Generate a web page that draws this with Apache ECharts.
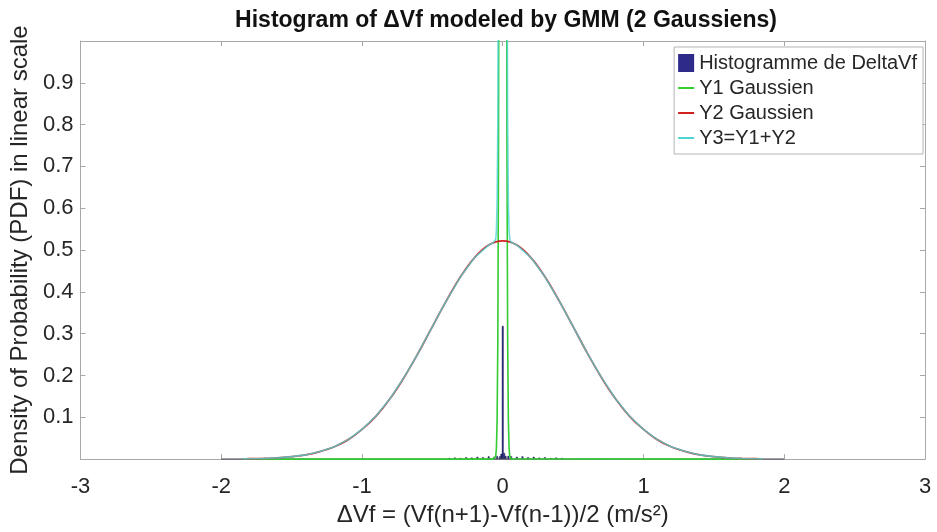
<!DOCTYPE html>
<html>
<head>
<meta charset="utf-8">
<script src="https://cdn.jsdelivr.net/npm/echarts@6/dist/echarts.min.js"></script>
<style>html,body{margin:0;padding:0;background:#fff}#c{width:937px;height:532px}</style>
</head>
<body>
<div id="c"></div>
<script>
// ---- data ----
const xTicks = [-3, -2, -1, 0, 1, 2, 3];
const yTicks = [0.1, 0.2, 0.3, 0.4, 0.5, 0.6, 0.7, 0.8, 0.9];

// histogram (bin centres, heights), bin width, and the full bin range
const histRange = [-2, 2];
const histBinWidth = 0.01;
const histCenters = [-1.72, -1.64, -1.58, -0.38, -0.34, -0.30, -0.26, -0.22, -0.18, -0.14, -0.10, -0.06, -0.04, -0.02, -0.01, 0, 0.01, 0.02, 0.04, 0.06, 0.10, 0.14, 0.18, 0.22, 0.26, 0.30, 0.34, 0.38, 0.42, 1.56, 1.64];
const histHeights = [0.002, 0.003, 0.002, 0.002, 0.003, 0.002, 0.004, 0.003, 0.005, 0.004, 0.006, 0.005, 0.007, 0.006, 0.012, 0.318, 0.014, 0.007, 0.007, 0.006, 0.005, 0.006, 0.004, 0.005, 0.003, 0.004, 0.002, 0.003, 0.002, 0.002, 0.002];

// Y1 : narrow Gaussian (spike at 0)
const y1X = [-1.85, -0.07, -0.06, -0.05, -0.045, -0.04, -0.035, -0.03, -0.025, -0.02, -0.015, -0.01, -0.005, 0, 0.005, 0.01, 0.015, 0.02, 0.025, 0.03, 0.035, 0.04, 0.045, 0.05, 0.06, 0.07, 1.85];
const y1Vals = [0, 0, 0.0003, 0.0065, 0.026, 0.094, 0.28, 0.74, 1.67, 3.25, 5.4, 7.9, 9.8, 10.6, 9.8, 7.9, 5.4, 3.25, 1.67, 0.74, 0.28, 0.094, 0.026, 0.0065, 0.0003, 0, 0];

// Y2 : broad Gaussian
const y2X = [-1.85, -1.8, -1.7, -1.6, -1.5, -1.4, -1.3, -1.2, -1.1, -1.0, -0.9, -0.8, -0.7, -0.6, -0.5, -0.4, -0.3, -0.2, -0.1, 0, 0.1, 0.2, 0.3, 0.4, 0.5, 0.6, 0.7, 0.8, 0.9, 1.0, 1.1, 1.2, 1.3, 1.4, 1.5, 1.6, 1.7, 1.8, 1.85];
const y2Vals = [0.0005, 0.0008, 0.0016, 0.003, 0.006, 0.010, 0.018, 0.029, 0.046, 0.071, 0.103, 0.145, 0.196, 0.254, 0.317, 0.379, 0.436, 0.482, 0.512, 0.522, 0.512, 0.482, 0.436, 0.379, 0.317, 0.254, 0.196, 0.145, 0.103, 0.071, 0.046, 0.029, 0.018, 0.010, 0.006, 0.003, 0.0016, 0.0008, 0.0005];

// Y3 = Y1 + Y2
const y3X = [-1.85, -1.8, -1.7, -1.6, -1.5, -1.4, -1.3, -1.2, -1.1, -1.0, -0.9, -0.8, -0.7, -0.6, -0.5, -0.4, -0.3, -0.2, -0.1, -0.07, -0.06, -0.05, -0.045, -0.04, -0.035, -0.03, -0.025, -0.02, -0.015, -0.01, -0.005, 0, 0.005, 0.01, 0.015, 0.02, 0.025, 0.03, 0.035, 0.04, 0.045, 0.05, 0.06, 0.07, 0.1, 0.2, 0.3, 0.4, 0.5, 0.6, 0.7, 0.8, 0.9, 1.0, 1.1, 1.2, 1.3, 1.4, 1.5, 1.6, 1.7, 1.8, 1.85];
const y3Vals = [0.0005, 0.0008, 0.0016, 0.003, 0.006, 0.010, 0.018, 0.029, 0.046, 0.071, 0.103, 0.145, 0.196, 0.254, 0.317, 0.379, 0.436, 0.482, 0.512, 0.517, 0.518, 0.526, 0.546, 0.614, 0.80, 1.26, 2.19, 3.77, 5.92, 8.42, 10.32, 11.12, 10.32, 8.42, 5.92, 3.77, 2.19, 1.26, 0.80, 0.614, 0.546, 0.526, 0.518, 0.517, 0.512, 0.482, 0.436, 0.379, 0.317, 0.254, 0.196, 0.145, 0.103, 0.071, 0.046, 0.029, 0.018, 0.010, 0.006, 0.003, 0.0016, 0.0008, 0.0005];

const seriesNames = ['Histogramme de DeltaVf', 'Y1 Gaussien', 'Y2 Gaussien', 'Y3=Y1+Y2'];

// ---- chart ----
const FONT = '"Liberation Sans", Arial, Helvetica, sans-serif';
const TXT = '#262626';
const AX = '#a8a8a8';
const C_HIST = '#2d2a8a', C_G = '#33cc33', C_R = '#d02020', C_C = '#4fd4d4';
const LINE_ICON = 'path://M0,0 L18,0 L18,2.2 L0,2.2 Z';

const zip = (xs, ys) => xs.map((x, i) => [x, ys[i]]);
const histData = histCenters.map((c, i) => [c, histHeights[i], histBinWidth]);

const chart = echarts.init(document.getElementById('c'), null, {renderer: 'canvas'});
const axisCommon = {
  type: 'value',
  axisLine: {show: true, onZero: false, lineStyle: {color: AX, width: 1}},
  axisTick: {show: true, inside: true, length: 5, lineStyle: {color: AX}},
  splitLine: {show: false}
};
chart.setOption({
  animation: false,
  backgroundColor: '#fff',
  textStyle: {fontFamily: FONT},
  title: {
    text: 'Histogram of \u0394Vf modeled by GMM (2 Gaussiens)',
    left: 501, top: 4, textAlign: 'center',
    textStyle: {fontFamily: FONT, fontSize: 23, fontWeight: 'bold', color: '#111'}
  },
  grid: {left: 77, right: 12, top: 41, bottom: 67, containLabel: false},
  legend: {
    orient: 'vertical', right: 14, top: 47,
    backgroundColor: '#fff', borderColor: '#b4b4b4', borderWidth: 1,
    padding: [6, 6, 6, 4], itemGap: 5, itemWidth: 16, itemHeight: 18,
    symbolKeepAspect: true,
    textStyle: {fontFamily: FONT, fontSize: 20, color: TXT},
    data: [
      {name: seriesNames[0], icon: 'rect'},
      {name: seriesNames[1], icon: LINE_ICON},
      {name: seriesNames[2], icon: LINE_ICON},
      {name: seriesNames[3], icon: LINE_ICON}
    ]
  },
  xAxis: [
    Object.assign({}, axisCommon, {
      min: xTicks[0], max: xTicks[xTicks.length - 1], interval: 1, position: 'bottom',
      axisLabel: {fontFamily: FONT, fontSize: 22, color: TXT, margin: 17},
      name: '\u0394Vf = (Vf(n+1)-Vf(n-1))/2 (m/s\u00b2)', nameLocation: 'middle', nameGap: 40,
      nameTextStyle: {fontFamily: FONT, fontSize: 24, color: TXT}
    }),
    Object.assign({}, axisCommon, {
      min: xTicks[0], max: xTicks[xTicks.length - 1], interval: 1, position: 'top',
      axisLabel: {show: false}
    })
  ],
  yAxis: [
    Object.assign({}, axisCommon, {
      min: 0, max: 1, interval: 0.1, position: 'left',
      axisLabel: {fontFamily: FONT, fontSize: 22, color: TXT, margin: 7,
        showMinLabel: false, showMaxLabel: false,
        formatter: v => (yTicks.some(t => Math.abs(t - v) < 1e-9) ? v.toFixed(1) : '')},
      name: 'Density of Probability (PDF) in linear scale', nameLocation: 'middle', nameGap: 44,
      nameTextStyle: {fontFamily: FONT, fontSize: 24, color: TXT}
    }),
    Object.assign({}, axisCommon, {
      min: 0, max: 1, interval: 0.1, position: 'right',
      axisLabel: {show: false}
    })
  ],
  series: [
    {
      name: seriesNames[0], type: 'custom', xAxisIndex: 0, yAxisIndex: 0,
      itemStyle: {color: C_HIST},
      encode: {x: 0, y: 1},
      clip: true,
      data: histData,
      renderItem: function (params, api) {
        const c = api.value(0), h = api.value(1), w = api.value(2);
        const p0 = api.coord([c - w / 2, h]);
        const p1 = api.coord([c + w / 2, 0]);
        return {
          type: 'rect',
          shape: {x: p0[0], y: p0[1], width: Math.max(p1[0] - p0[0], 1.2), height: p1[1] - p0[1]},
          style: {fill: C_HIST, stroke: '#1a1a40', lineWidth: 0.4}
        };
      }
    },
    {
      name: seriesNames[0], type: 'line', symbol: 'none', silent: true,
      lineStyle: {color: '#4a4a5a', width: 1.2},
      itemStyle: {color: C_HIST},
      data: [[histRange[0], 0], [histRange[1], 0]]
    },
    {
      name: seriesNames[1], type: 'line', symbol: 'none', clip: true,
      lineStyle: {color: C_G, width: 1.6}, itemStyle: {color: C_G},
      data: zip(y1X, y1Vals)
    },
    {
      name: seriesNames[2], type: 'line', symbol: 'none', clip: true, smooth: 0.3,
      lineStyle: {color: C_R, width: 1.8}, itemStyle: {color: C_R},
      data: zip(y2X, y2Vals)
    },
    {
      name: seriesNames[3], type: 'line', symbol: 'none', clip: true,
      lineStyle: {color: C_C, width: 1.6, opacity: 0.8}, itemStyle: {color: C_C},
      data: zip(y3X, y3Vals)
    }
  ]
});
</script>
</body>
</html>
